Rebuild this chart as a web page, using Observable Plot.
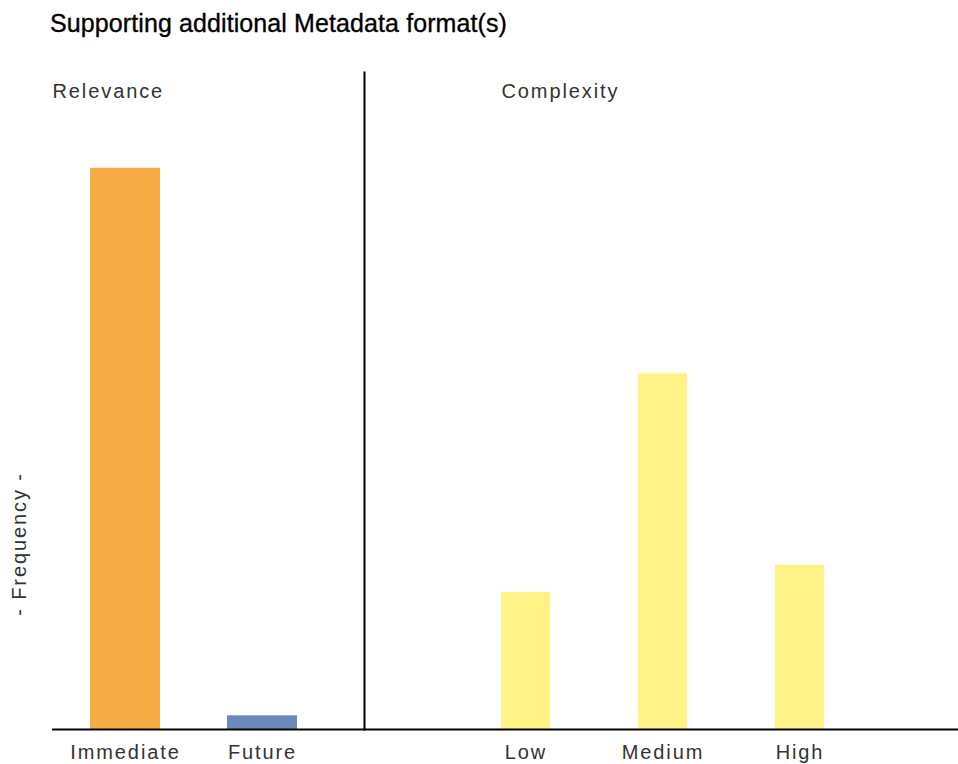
<!DOCTYPE html>
<html>
<head>
<meta charset="utf-8">
<script src="https://cdn.jsdelivr.net/npm/d3@7"></script>
<script src="https://cdn.jsdelivr.net/npm/@observablehq/plot@0.6"></script>
<style>
  html, body { margin: 0; padding: 0; background: #fff; }
  #wrap { position: relative; width: 958px; height: 764px; overflow: hidden; font-family: "Liberation Sans", Arial, sans-serif; }
  #title { position: absolute; left: 50px; top: 11px; font-size: 25px; line-height: 25px; letter-spacing: 0.1px; color: #000; white-space: nowrap; -webkit-text-stroke: 0.35px #000; }
  #left { position: absolute; left: 0; top: 0; }
  #right { position: absolute; left: 364px; top: 0; }
</style>
</head>
<body>
<div id="wrap">
  <div id="title">Supporting additional Metadata format(s)</div>
  <div id="left"></div>
  <div id="right"></div>
</div>
<script>
// Data
const relevanceCategories = ["Immediate", "Future"];
const relevanceValues = [41, 1];
const relevanceColors = ["#F5AC45", "#6A88BA"];
const complexityCategories = ["Low", "Medium", "High"];
const complexityValues = [10, 26, 12];
const complexityColor = "#FFF388";
const yMax = 48;
const panelTitles = ["Relevance", "Complexity"];
const yLabel = "- Frequency -";

const relevance = relevanceCategories.map((c, i) => ({category: c, value: relevanceValues[i], color: relevanceColors[i]}));
const complexity = complexityCategories.map((c, i) => ({category: c, value: complexityValues[i]}));

const H = 764, MT = 72, MB = 35;
const textStyle = "font-family: 'Liberation Sans', Arial, sans-serif; font-size: 20px; letter-spacing: 1.9px; color: #333; overflow: visible;";

const left = Plot.plot({
  width: 364, height: H,
  marginTop: MT, marginBottom: MB, marginLeft: 52, marginRight: 0,
  style: textStyle,
  x: {domain: relevanceCategories, range: [23, 364], padding: 0.489, label: null},
  y: {domain: [0, yMax], axis: null},
  marks: [
    Plot.barY(relevance, {x: "category", y: "value", fill: "color"}),
    Plot.ruleY([0], {stroke: "#000", strokeWidth: 2}),
    Plot.axisX({tickSize: 0, tickPadding: 15, fontSize: 20, fill: "#333", label: null}),
    Plot.text([panelTitles[0]], {frameAnchor: "top-left", textAnchor: "start", lineAnchor: "bottom", dy: 25, fontSize: 20, fill: "#333"}),
    Plot.text([yLabel], {frameAnchor: "left", textAnchor: "middle", rotate: -90, dx: -33, dy: 143, fontSize: 20, fill: "#333"})
  ]
});

const right = Plot.plot({
  width: 594, height: H,
  marginTop: MT, marginBottom: MB, marginLeft: 0, marginRight: 0,
  style: textStyle,
  x: {domain: complexityCategories, range: [49, 548], padding: 0.6423, label: null},
  y: {domain: [0, yMax], axis: null},
  marks: [
    Plot.barY(complexity, {x: "category", y: "value", fill: complexityColor}),
    Plot.ruleY([0], {stroke: "#000", strokeWidth: 2}),
    Plot.frame({anchor: "left", stroke: "#000", strokeWidth: 2}),
    Plot.axisX({tickSize: 0, tickPadding: 15, fontSize: 20, fill: "#333", label: null}),
    Plot.text([panelTitles[1]], {frameAnchor: "top-left", textAnchor: "start", lineAnchor: "bottom", dx: 137, dy: 25, fontSize: 20, fill: "#333"})
  ]
});

document.getElementById("left").appendChild(left);
document.getElementById("right").appendChild(right);
</script>
</body>
</html>
